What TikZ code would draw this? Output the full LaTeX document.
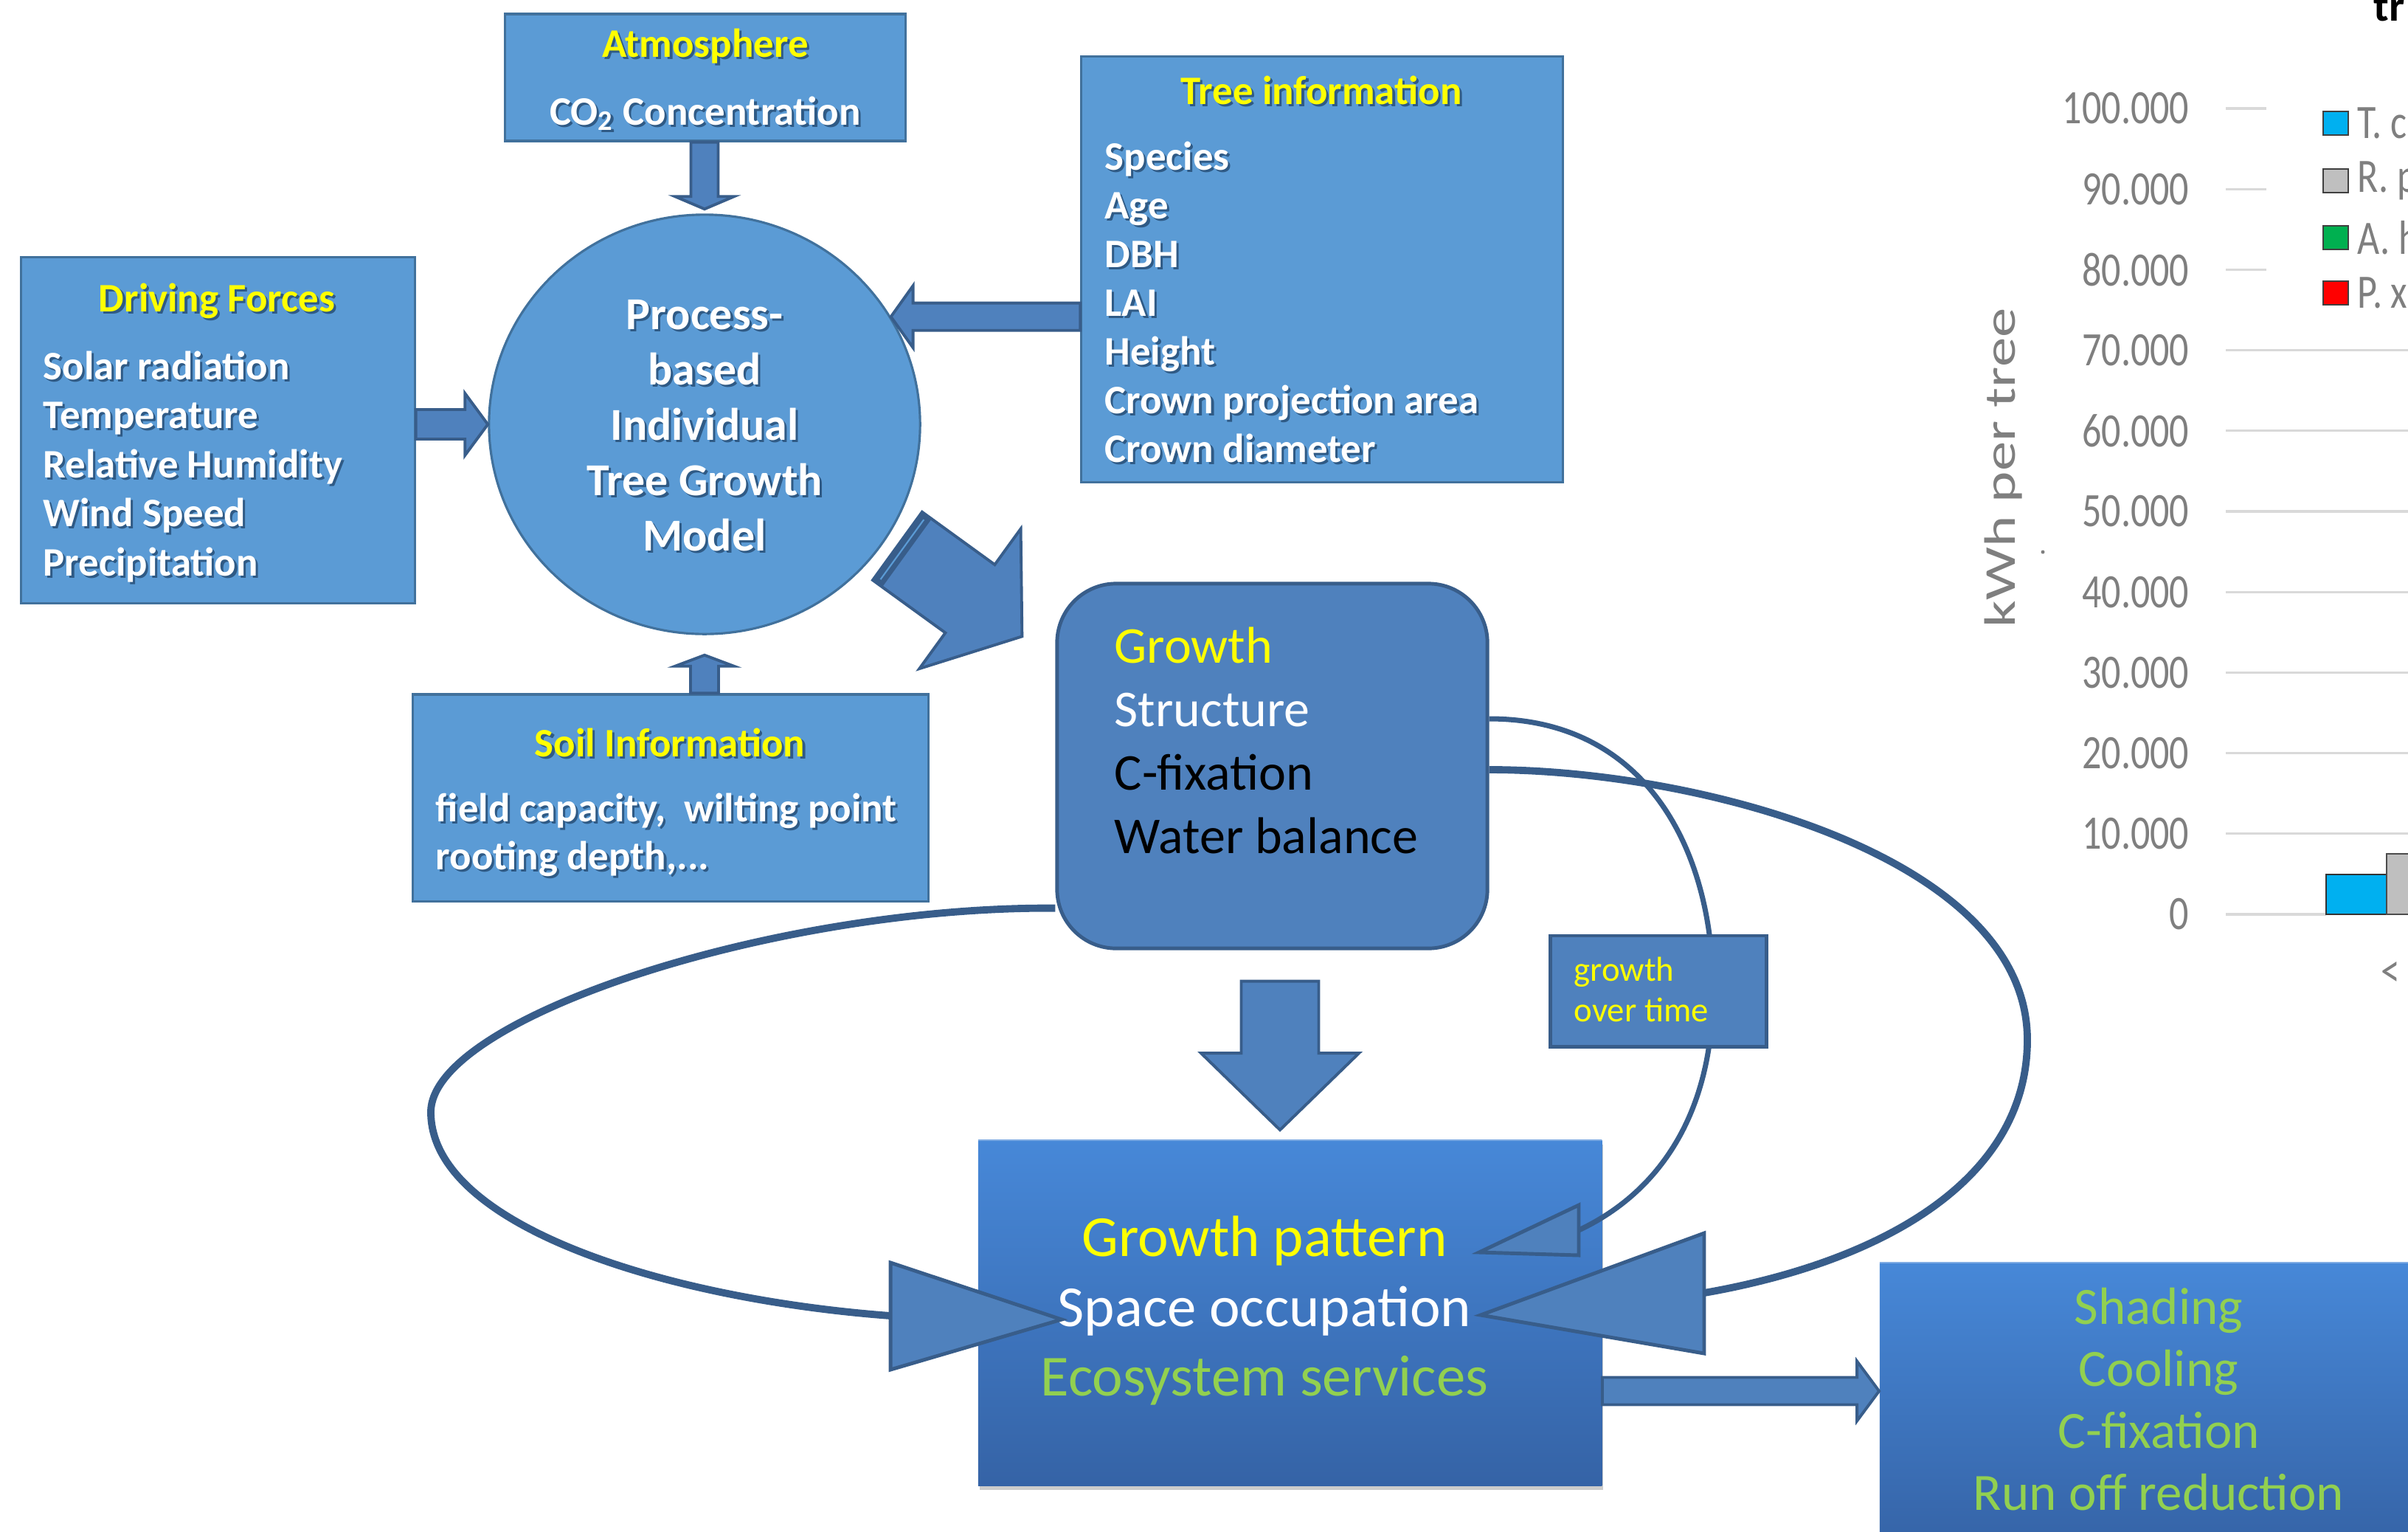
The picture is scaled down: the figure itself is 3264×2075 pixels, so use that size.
\documentclass[tikz,border=0pt]{standalone}
\usepackage{fontspec}
\setmainfont{Carlito}
\usetikzlibrary{calc,shapes.geometric,shadows}
\definecolor{lfill}{HTML}{5B9BD5}
\definecolor{lborder}{HTML}{41719C}
\definecolor{dfill}{HTML}{4F81BD}
\definecolor{dborder}{HTML}{385D8A}
\definecolor{ylw}{HTML}{FFFF00}
\definecolor{grn}{HTML}{92D050}
\definecolor{shadowc}{HTML}{2F5A85}
\definecolor{gptop}{HTML}{4788D8}
\definecolor{gpbot}{HTML}{3563A6}
\definecolor{chgray}{HTML}{7F7F7F}
\definecolor{gridc}{HTML}{D9D9D9}
\definecolor{barblue}{HTML}{00B0F0}
\definecolor{bargray}{HTML}{BFBFBF}
\definecolor{bargreen}{HTML}{00B050}
\definecolor{barred}{HTML}{FF0000}
\newcommand\tsh[1]{\rlap{\kern0.9pt\raisebox{-0.9pt}{\color{shadowc}#1}}#1}
\newcommand\blockarr[5]{%
  \path ($(#2)!#5!(#1)$) coordinate (bah);
  \draw[blockarrow] ($(#1)!#3!90:(#2)$) -- ($(bah)!#3!-90:(#1)$) -- ($(bah)!#4!-90:(#1)$) -- (#2) -- ($(bah)!#4!90:(#1)$) -- ($(bah)!#3!90:(#1)$) -- ($(#1)!#3!-90:(#2)$) -- cycle;}
\tikzset{
  every node/.style={inner sep=0pt},
  lbox/.style={rectangle, draw=lborder, fill=lfill, line width=0.9pt},
  dbox/.style={rectangle, draw=dborder, fill=dfill, line width=1.4pt},
  gbox/.style={rectangle, top color=gptop, bottom color=gpbot, drop shadow={shadow xshift=0.6pt, shadow yshift=-1.6pt, opacity=0.4}},
  btxt/.style={text=white, font=\bfseries\fontsize{15.6}{18}\selectfont},
  ytitle/.style={btxt, text=ylw},
  ctxt/.style={text=white, font=\bfseries\fontsize{17.6}{20}\selectfont},
  gtxt/.style={font=\fontsize{19.9}{22}\selectfont},
  ptxt/.style={font=\fontsize{22.4}{25}\selectfont},
  rtxt/.style={text=grn, font=\fontsize{20.2}{23}\selectfont},
  otxt/.style={text=ylw, font=\fontsize{13.3}{15}\selectfont},
  chtxt/.style={text=chgray, font=\fontsize{14.8}{16}\selectfont},
  blockarrow/.style={fill=dfill, draw=dborder, line width=1.1pt, line join=miter},
  loopthick/.style={draw=dborder, line width=2.8pt},
  loopthin/.style={draw=dborder, line width=2pt},
  lhead/.style={fill=dfill, draw=dborder, line width=1.4pt, line join=miter},
  grid line/.style={draw=gridc, line width=0.9pt},
}
\begin{document}
\begin{tikzpicture}[x=0.01cm, y=-0.01cm]
\useasboundingbox (0,0) rectangle (3264,2075);
\clip (0,0) rectangle (3264,2075);

% ---------- chart (right) ----------
\node[font=\bfseries\fontsize{17}{17}\selectfont, anchor=base west] (charttitle) at (3217,28) {tr};
\foreach \i in {0,1,2} \draw[grid line] (3017,{147+109.2*\i}) -- (3072,{147+109.2*\i});
\foreach \i in {3,...,9} \draw[grid line] (3017,{147+109.2*\i}) -- (3264,{147+109.2*\i});
\draw[grid line] (3017,1239) -- (3153,1239);
\foreach \v [count=\i from 0] in {100.000,90.000,80.000,70.000,60.000,50.000,40.000,30.000,20.000,10.000,0}
  \node[chtxt, anchor=east] (tk\i) at (2968,{147+109.2*\i}) {\scalebox{1}[1.25]{\v}};
\node[rotate=90, text=chgray, font=\fontsize{17}{17}\selectfont] (ylab) at (2716,634) {\scalebox{1.35}[1]{kWh per tree}};
\fill[chgray] (2769,748) circle (2.5);
\foreach \c/\lab/\y in {barblue/T. c/167, bargray/R. p/245, bargreen/A. h/322, barred/P. x/397} {
  \draw[fill=\c, draw=black!75, line width=0.8pt] (3149,\y-16) rectangle (3183,\y+16);
  \node[chtxt, anchor=west] (lg\y) at (3195,\y) {\scalebox{1}[1.25]{\lab}};
}
\draw[fill=barblue, draw=black!80, line width=0.7pt] (3153,1185) rectangle (3235,1239);
\draw[fill=bargray, draw=black!70, line width=0.7pt] (3235,1157) rectangle (3300,1239);
\node[chtxt] (xlab) at (3240,1320) {\scalebox{1}[1.25]{<}};

% ---------- boxes ----------
\node[lbox, minimum width=5.42cm, minimum height=1.72cm] (atm) at (956,105) {};
\node[lbox, minimum width=5.33cm, minimum height=4.68cm] (df) at (295.5,583) {};
\node[lbox, minimum width=6.52cm, minimum height=5.76cm] (tree) at (1792,365) {};
\node[lbox, minimum width=6.98cm, minimum height=2.80cm] (soil) at (909,1081) {};
\node[ellipse, draw=lborder, fill=lfill, line width=0.9pt, minimum width=5.84cm, minimum height=5.68cm] (circ) at (955,575) {};
\node[dbox, rounded corners=0.8cm, minimum width=5.83cm, minimum height=4.94cm] (grow) at (1724.5,1038) {};
\node[gbox, minimum width=8.45cm, minimum height=4.68cm] (gp) at (1748.5,1779) {};
\draw[white, opacity=0.3, line width=1.2pt] (gp.north west) -- (gp.north east);
\node[gbox, minimum width=7.56cm, minimum height=3.90cm] (rb) at (2926,1906) {};
\draw[white, opacity=0.3, line width=1.2pt] (rb.north west) -- (rb.north east);

% ---------- texts ----------
\node[ytitle, anchor=base] (atmT) at (956,77) {\tsh{Atmosphere}};
\node[btxt, anchor=base] (atmC) at (956,169) {\tsh{CO\textsubscript{2} Concentration}};
\node[ytitle, anchor=base] (dfT) at (294,422) {\tsh{Driving Forces}};
\foreach \t [count=\i] in {Solar radiation,Temperature,Relative Humidity,Wind Speed,Precipitation}
  \node[btxt, anchor=base west] (df\i) at (58,{514+66.6*(\i-1)}) {\tsh{\t}};
\node[ytitle, anchor=base] (treeT) at (1791,141) {\tsh{Tree information}};
\foreach \t [count=\i] in {Species,Age,DBH,LAI,Height,Crown projection area,Crown diameter}
  \node[btxt, anchor=base west] (tr\i) at (1497,{230+66*(\i-1)}) {\tsh{\t}};
\node[ytitle, anchor=base] (soilT) at (908,1025) {\tsh{Soil Information}};
\node[btxt, anchor=base west] (soil1) at (590,1113) {\tsh{field capacity,\ \ wilting point}};
\node[btxt, anchor=base west] (soil2) at (590,1178) {\tsh{rooting depth,...}};
\foreach \t [count=\i] in {Process-,based,Individual,Tree Growth,Model}
  \node[ctxt, anchor=base] (ci\i) at (955,{446+75*(\i-1)}) {\tsh{\t}};
\node[gtxt, text=ylw, anchor=base west] (g1) at (1510,898) {Growth};
\node[gtxt, text=white, anchor=base west] (g2) at (1510,984) {Structure};
\node[gtxt, text=black, anchor=base west] (g3) at (1510,1070) {C-fixation};
\node[gtxt, text=black, anchor=base west] (g4) at (1510,1156) {Water balance};
\node[ptxt, text=ylw, anchor=base] (p1) at (1714,1702) {Growth pattern};
\node[ptxt, text=white, anchor=base] (p2) at (1714,1797) {Space occupation};
\node[ptxt, text=grn, anchor=base] (p3) at (1714,1891) {Ecosystem services};
\foreach \t [count=\i] in {Shading,Cooling,C-fixation,Run off reduction}
  \node[rtxt, anchor=base] (r\i) at (2926,{1794+84.3*(\i-1)}) {\t};

% ---------- feedback loops ----------
\draw[loopthick] ($(grow.south west)+(0,-57)$) .. controls (1050,1228) and (584,1380) .. (584,1507)
  .. controls (584,1660) and (900,1760) .. ($(gp.west)+(-118,4)$);
\draw[loopthick] ($(grow.east)+(0,5)$) .. controls (2300,1043) and (2748,1160) .. (2748,1409)
  .. controls (2748,1600) and (2550,1710) .. ($(gp.east)+(138,-27)$);
\draw[loopthin] ($(grow.east)+(0,-64)$) .. controls (2230,974) and (2322,1150) .. (2322,1342)
  .. controls (2322,1520) and (2240,1620) .. ($(gp.east)+(-32,-112)$);
\node[dbox, minimum width=2.92cm, minimum height=1.50cm] (got) at (2248,1343) {};
\node[otxt, anchor=base west] (got1) at (2133,1329) {growth};
\node[otxt, anchor=base west] (got2) at (2133,1384) {over time};
\draw[lhead] ($(gp.west)+(-118,-68)$) -- ($(gp.west)+(114,9)$) -- ($(gp.west)+(-118,77)$) -- cycle;
\draw[lhead] ($(gp.east)+(138,-108)$) -- ($(gp.east)+(-165,3)$) -- ($(gp.east)+(138,55)$) -- cycle;
\draw[lhead] ($(gp.east)+(-32,-146)$) -- ($(gp.east)+(-167,-82)$) -- ($(gp.east)+(-32,-78)$) -- cycle;

% ---------- block arrows ----------
\coordinate (a1e) at ($(circ.north)+(0,-6)$);
\coordinate (a1s) at (a1e |- atm.south);
\blockarr{a1s}{a1e}{0.185cm}{0.40cm}{0.17cm}
\coordinate (a2e) at (circ.west);
\coordinate (a2s) at (df.east |- a2e);
\blockarr{a2s}{a2e}{0.20cm}{0.42cm}{0.31cm}
\coordinate (a3e) at (circ.30);
\coordinate (a3s) at (tree.west |- a3e);
\blockarr{a3s}{a3e}{0.185cm}{0.42cm}{0.30cm}
\coordinate (a4e) at ($(circ.south)+(0,27)$);
\coordinate (a4s) at (a4e |- soil.north);
\blockarr{a4s}{a4e}{0.19cm}{0.40cm}{0.15cm}
\coordinate (a6s) at ($(circ.-35)+(23,-2)$);
\coordinate (a6e) at ($(grow.north west)+(-45,74)$);
\blockarr{a6s}{a6e}{0.57cm}{1.17cm}{0.87cm}
\path ($(a6s)!0.16cm!(a6e)$) coordinate (a6b);
\fill[dborder] ($(a6s)!0.57cm!90:(a6e)$) -- ($(a6s)!0.57cm!-90:(a6e)$) -- ($(a6b)!0.57cm!-90:(a6e)$) -- ($(a6b)!0.57cm!90:(a6e)$) -- cycle;
\path ($(a6s)!0.08cm!(a6e)$) coordinate (a6m);
\draw[color=lfill, line width=0.6pt] ($(a6m)!0.5cm!90:(a6e)$) -- ($(a6m)!0.5cm!-90:(a6e)$);
\coordinate (a7s) at ($(grow.south)+(10.5,42)$);
\coordinate (a7e) at ($(a7s |- gp.north)+(0,-13)$);
\blockarr{a7s}{a7e}{0.525cm}{1.07cm}{1.04cm}
\coordinate (a8s) at ($(gp.east)+(0,106)$);
\coordinate (a8e) at (a8s -| rb.west);
\blockarr{a8s}{a8e}{0.185cm}{0.405cm}{0.30cm}
\end{tikzpicture}
\end{document}
